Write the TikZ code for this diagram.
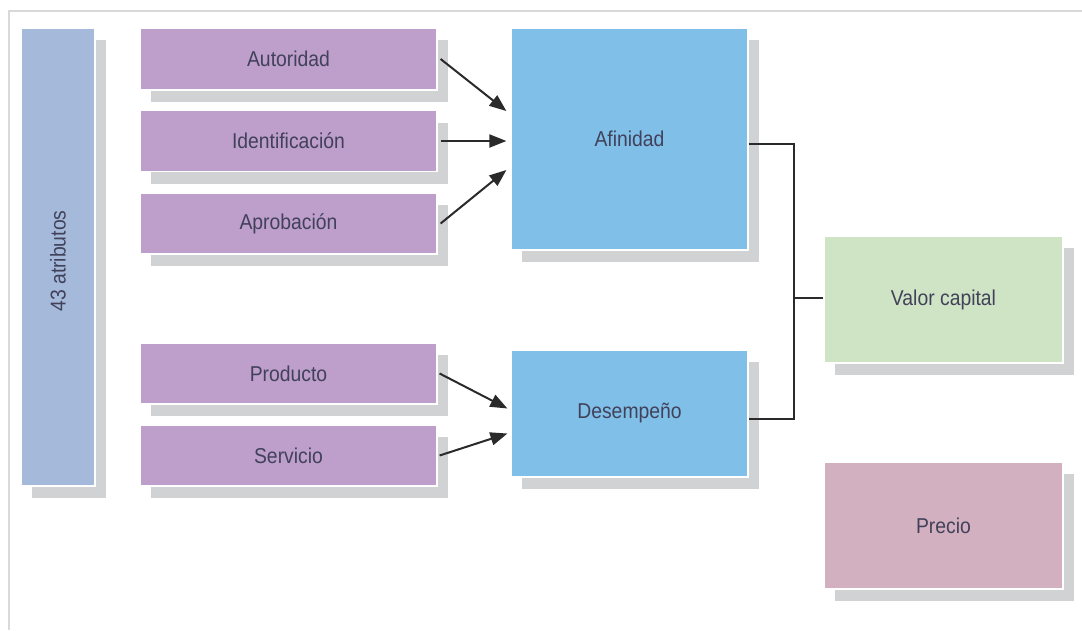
\documentclass[tikz,border=0pt]{standalone}
\usepackage{fontspec}
\setmainfont{Liberation Sans}[FakeStretch=0.9]
\usetikzlibrary{arrows.meta,shadows}
\definecolor{framegray}{HTML}{D9D9D9}
\definecolor{shadowgray}{HTML}{D1D2D4}
\definecolor{attrblue}{HTML}{A5BADB}
\definecolor{lilac}{HTML}{BE9ECB}
\definecolor{skyblue}{HTML}{80BFE8}
\definecolor{palegreen}{HTML}{CFE4C4}
\definecolor{dustypink}{HTML}{D3B0C0}
\definecolor{txtcol}{HTML}{41415A}
\definecolor{linecol}{HTML}{2A2A2A}
\tikzset{
  box/.style={rectangle, draw=white, line width=1.2pt, inner sep=0pt,
    font=\fontsize{21.5}{24}\selectfont, text=txtcol,
    drop shadow={shadow xshift=11pt, shadow yshift=-12pt, fill=shadowgray, opacity=1}},
  arr/.style={draw=linecol, line width=2pt, -{Triangle[length=17pt,width=13pt]}},
  link/.style={draw=linecol, line width=1.6pt},
  lbl/.style={font=\fontsize{21.5}{24}\selectfont, text=txtcol, inner sep=0pt}
}
\begin{document}
\begin{tikzpicture}[x=1pt,y=-1pt]
\useasboundingbox (0,0) rectangle (1082,630);
\draw[framegray, line width=1.5pt] (9,630) -- (9,11) -- (1082,11);

\node[box, fill=attrblue, minimum width=74pt, minimum height=458pt] (attr) at (58,257) {};
\node[lbl, rotate=90] (attrtxt) at (58,261) {43 atributos};

\node[box, fill=lilac, minimum width=297pt, minimum height=62pt] (aut) at (288.5,59) {Autoridad};
\node[box, fill=lilac, minimum width=297pt, minimum height=61pt] (ide) at (288.5,141) {Identificación};
\node[box, fill=lilac, minimum width=297pt, minimum height=61pt] (apr) at (288.5,223.5) {Aprobación};
\node[box, fill=lilac, minimum width=297pt, minimum height=61pt] (pro) at (288.5,373.5) {Producto};
\node[box, fill=lilac, minimum width=297pt, minimum height=61pt] (ser) at (288.5,455.5) {Servicio};

\node[box, fill=skyblue, minimum width=237pt, minimum height=222pt] (afi) at (629.5,139) {Afinidad};
\node[box, fill=skyblue, minimum width=237pt, minimum height=127pt] (des) at (629.5,413.5) {Desempeño};

\node[box, fill=palegreen, minimum width=239pt, minimum height=127pt] (val) at (943.5,299.5) {Valor capital};
\node[box, fill=dustypink, minimum width=239pt, minimum height=127pt] (pre) at (943.5,525.5) {Precio};

\draw[arr] ([xshift=3pt]aut.east) -- ([xshift=-4pt,yshift=28pt]afi.west);
\draw[arr] ([xshift=3pt]ide.east) -- ([xshift=-4pt]afi.west |- ide.east);
\draw[arr] ([xshift=3pt]apr.east) -- ([xshift=-4pt,yshift=-31pt]afi.west);
\draw[arr] ([xshift=2pt]pro.east) -- ([xshift=-3pt,yshift=5pt]des.west);
\draw[arr] ([xshift=2pt]ser.east) -- ([xshift=-3pt,yshift=-20pt]des.west);

\coordinate (bus) at (794,298);
\draw[link] ([yshift=-5pt]afi.east) -| (bus) |- ([yshift=-5.5pt]des.east);
\draw[link] (bus) -- (val.west |- bus);
\end{tikzpicture}
\end{document}
